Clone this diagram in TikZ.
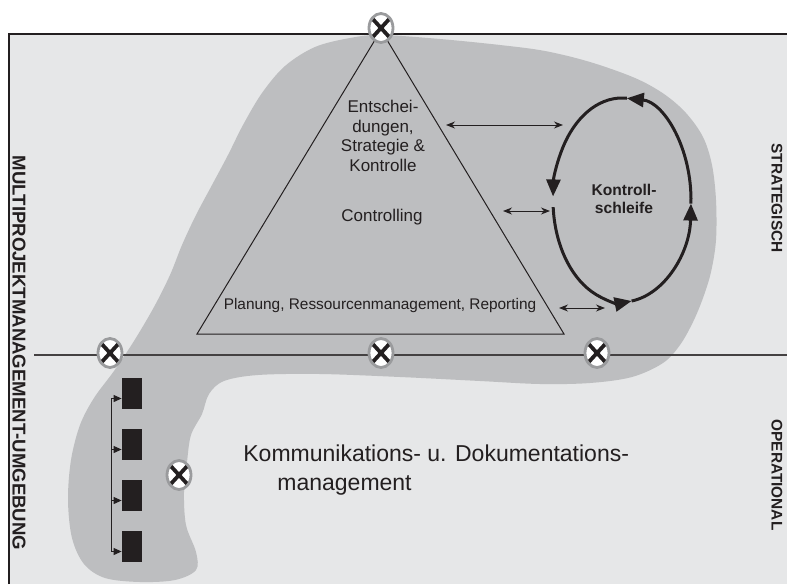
\documentclass[tikz,border=0pt]{standalone}
\usepackage{fontspec}
\setmainfont{Liberation Sans}
\usetikzlibrary{positioning,arrows.meta,shapes.geometric}

\definecolor{paper}{HTML}{E6E7E8}
\definecolor{blobfill}{HTML}{BDBEC0}
\definecolor{inkcol}{HTML}{231F20}
\definecolor{ringcol}{HTML}{9A9B9D}

\begin{document}
\begin{tikzpicture}[
  x=0.5pt, y=-0.5pt,
  % Crossed circles for the interfaces
  xcircle/.style={ellipse, draw=ringcol, line width=1.4pt, fill=white,
    minimum width=12pt, minimum height=14.5pt, inner sep=0pt,
    path picture={\draw[inkcol, line width=1.9pt]
      ([shift={(-5.5pt,6pt)}]path picture bounding box.center) --
      ([shift={(5.5pt,-6pt)}]path picture bounding box.center)
      ([shift={(-5.5pt,-6pt)}]path picture bounding box.center) --
      ([shift={(5.5pt,6pt)}]path picture bounding box.center);}},
  % Black project boxes
  project/.style={rectangle, fill=inkcol, minimum width=10pt,
    minimum height=15.5pt, inner sep=0pt},
  % Plain labels
  label/.style={text=inkcol, align=center, inner sep=0pt},
  sidelabel/.style={text=inkcol, rotate=-90, inner sep=0pt,
    font=\fontsize{7.7}{9}\selectfont\bfseries},
  % Thin double arrows with small heads
  twoway/.style={draw=inkcol, line width=0.5pt,
    {Stealth[length=4.5pt, width=3.5pt]}-{Stealth[length=4.5pt, width=3.5pt]}},
  feed/.style={draw=inkcol, line width=0.5pt,
    -{Triangle[length=4pt, width=3.5pt]}},
  % Thick arcs of the control loop
  loopline/.style={draw=inkcol, line width=1.5pt,
    -{Triangle[length=8.5pt, width=7pt]}},
]
  % === Frame and environment ===
  \useasboundingbox (0,0) rectangle (787,584);
  \fill[paper] (9,34) rectangle (787,584);
  \draw[inkcol, line width=0.8pt] (9,584) -- (9,34) -- (787,34);

  % === Multi-project area ===
  \fill[blobfill] plot[smooth cycle, tension=0.55] coordinates {
    (381,35) (440,39) (500,45) (545,51) (590,62) (635,78) (664,94)
    (686,113) (703,137) (712,165) (716,200) (716,240) (711,272)
    (703,298) (693,322) (680,345) (663,363) (632,377) (590,383)
    (540,384) (480,381) (400,377) (320,374) (258,375) (224,381)
    (209,394) (202,414) (191,435) (187,462) (184,492) (186,525)
    (196,552) (196,570) (175,580) (140,582) (105,578) (84,564)
    (72,538) (68,500) (71,460) (80,425) (94,398) (114,371) (134,341)
    (154,307) (170,275) (182,245) (196,215) (212,185) (228,155)
    (243,125) (262,93) (285,66) (315,47) (350,38)};

  % === Divider between strategic and operational ===
  \coordinate (lineL) at (34,355);
  \coordinate (lineR) at (787,355);
  \draw[inkcol!85, line width=0.6pt] (lineL) -- (lineR);

  % === Triangle ===
  \coordinate (apex) at (381,30);
  \coordinate (baseL) at (197,334);
  \coordinate (baseR) at (564,334);
  \draw[inkcol, line width=0.5pt] (apex) -- (baseL) -- (baseR) -- cycle;

  \node[label, font=\fontsize{8.5}{9.8}\selectfont] (decide) at (383,136)
    {Entschei-\\dungen,\\Strategie \&\\Kontrolle};
  \node[label, font=\fontsize{8.5}{9.8}\selectfont] (ctrl) at (382,217) {Controlling};
  \node[label, font=\fontsize{7.7}{9}\selectfont] (plan) at (380,306)
    {Planung, Ressourcenmanagement, Reporting};

  % === Control loop ===
  \coordinate (loopc) at (622,200);
  \draw[loopline] (loopc) ++(82:69 and 102)
    arc[start angle=82, end angle=2, x radius=69, y radius=102];
  \draw[loopline] (loopc) ++(2:69 and 102)
    arc[start angle=2, end angle=-86, x radius=69, y radius=102];
  \draw[loopline] (loopc) ++(-86:69 and 102)
    arc[start angle=-86, end angle=-178, x radius=69, y radius=102];
  \draw[loopline] (loopc) ++(-184:69 and 102)
    arc[start angle=-184, end angle=-278, x radius=69, y radius=102];
  \node[label, font=\fontsize{7.8}{9}\selectfont\bfseries] (loop) at (624,199)
    {Kontroll-\\schleife};

  % === Links triangle <-> loop ===
  \coordinate (linkAa) at (446,125);
  \coordinate (linkAb) at (563,125);
  \coordinate (linkBa) at (503,211);
  \coordinate (linkBb) at (550,211);
  \coordinate (linkCa) at (559,308);
  \coordinate (linkCb) at (605,308);
  \path (linkAa) edge[twoway] (linkAb);
  \path (linkBa) edge[twoway] (linkBb);
  \path (linkCa) edge[twoway] (linkCb);

  % === Projects ===
  \node[project] (proj1) at (132,393.5) {};
  \node[project] (proj2) at (132,444.5) {};
  \node[project] (proj3) at (132,495.5) {};
  \node[project] (proj4) at (132,546.5) {};
  \coordinate (busT) at (111,399);
  \coordinate (busB) at (111,551);
  \draw[inkcol, line width=0.5pt] (busT) -- (busB);
  \foreach \p in {proj1,proj2,proj3,proj4}{
    \coordinate (\p-in) at ([yshift=-2.5pt]\p.west);
    \path (busT |- \p-in) edge[feed] (\p-in);
  }

  \node[label, align=left, anchor=west, font=\fontsize{11.5}{14.5}\selectfont] (comm)
    at (243,470) {Kommunikations- u. Dokumentations-\\\hspace*{17pt}management};

  % === Side labels ===
  \node[sidelabel, font=\fontsize{9.3}{11}\selectfont\bfseries] (env) at (19,353)
    {MULTIPROJEKTMANAGEMENT-UMGEBUNG};
  \node[sidelabel] (strat) at (777,198) {STRATEGISCH};
  \node[sidelabel] (oper) at (777,475) {OPERATIONAL};

  % === Interfaces ===
  \node[xcircle] (xtop) at (381,28) {};
  \node[xcircle] (xleft) at (110,353) {};
  \node[xcircle] (xmid) at (381,353) {};
  \node[xcircle] (xright) at (597,353) {};
  \node[xcircle] (xlow) at (179,475) {};
\end{tikzpicture}
\end{document}
